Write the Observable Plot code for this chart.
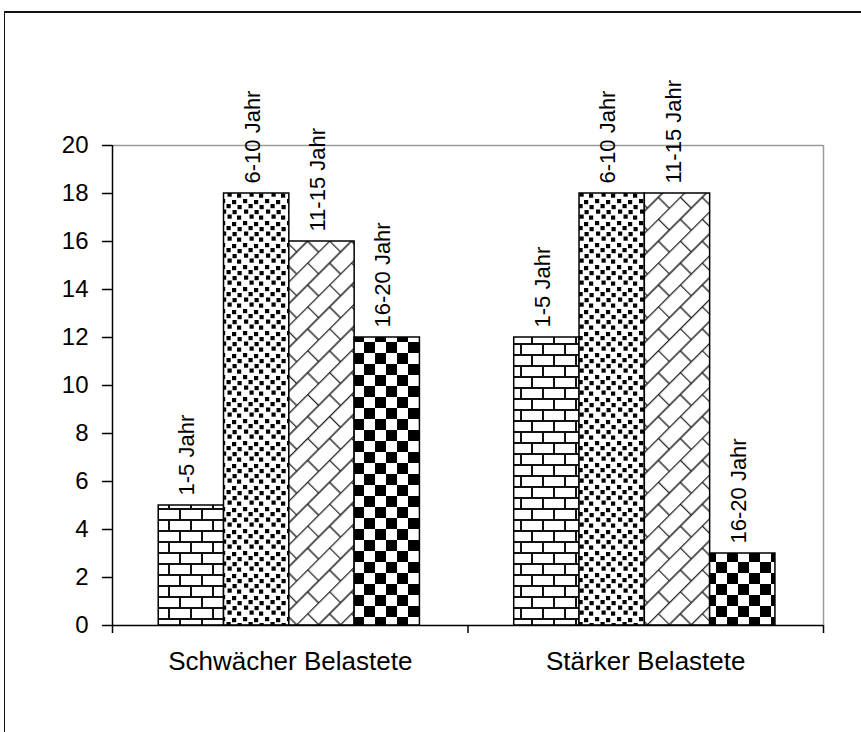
<!DOCTYPE html>
<html>
<head>
<meta charset="utf-8">
<script src="https://cdn.jsdelivr.net/npm/d3@7"></script>
<script src="https://cdn.jsdelivr.net/npm/@observablehq/plot@0.6"></script>
<style>
  html, body { margin: 0; padding: 0; background: #fff; overflow: hidden; }
  body { width: 861px; height: 732px; position: relative; font-family: "Liberation Sans", Arial, sans-serif; }
  #frame { position: absolute; left: 4px; top: 11px; width: 900px; height: 800px;
           border-left: 1.5px solid #111; border-top: 2px solid #111; box-sizing: border-box; }
  #chart { position: absolute; left: 0; top: 0; }
</style>
</head>
<body>
<div id="frame"></div>
<div id="chart"></div>
<script>
const groups = ["Schwächer Belastete", "Stärker Belastete"];
const series = ["1-5 Jahr", "6-10 Jahr", "11-15 Jahr", "16-20 Jahr"];
const valuesSchwaecher = [5, 18, 16, 12];
const valuesStaerker = [12, 18, 18, 3];
const yTicks = [0, 2, 4, 6, 8, 10, 12, 14, 16, 18, 20];

const groupValues = [valuesSchwaecher, valuesStaerker];
const patternIds = ["pat-brick", "pat-dots", "pat-diag", "pat-check"];

const pad = 0.13;      // space before first bar within a group (fraction of group)
const bw = 0.1837;     // bar width (fraction of group)

const rows = [];
groups.forEach((g, gi) => {
  series.forEach((s, si) => {
    rows.push({group: g, series: s, value: groupValues[gi][si], x1: gi + pad + si * bw, x2: gi + pad + (si + 1) * bw});
  });
});

const chart = Plot.plot({
  width: 861,
  height: 732,
  marginLeft: 112,
  marginRight: 38,
  marginTop: 145,
  marginBottom: 107,
  style: {fontFamily: "'Liberation Sans', Arial, sans-serif", color: "#000", background: "transparent"},
  x: {domain: [0, 2], axis: null},
  y: {domain: [0, 20], axis: null},
  color: {type: "ordinal", domain: series, range: patternIds.map(id => `url(#${id})`)},
  marks: [
    Plot.ruleY([20], {stroke: "#9a9a9a", strokeWidth: 1.5}),
    Plot.ruleX([2], {stroke: "#9a9a9a", strokeWidth: 1.5}),
    Plot.axisY({ticks: yTicks, tickSize: 10, tickPadding: 14, fontSize: 24, label: null, stroke: "#000", strokeWidth: 1.5}),
    Plot.axisX({ticks: [0, 1, 2], tickSize: 8, tickFormat: () => "", label: null, stroke: "#000", strokeWidth: 1.5}),
    Plot.axisX({ticks: [0.5, 1.5], tickSize: 0, tickPadding: 26, tickFormat: d => groups[Math.floor(d)], fontSize: 26, label: null}),
    Plot.rectY(rows, {x1: "x1", x2: "x2", y: "value", fill: "series", stroke: "#000", strokeWidth: 1.5}),
    Plot.ruleY([0], {stroke: "#000", strokeWidth: 1.5}),
    Plot.ruleX([0], {stroke: "#000", strokeWidth: 1.5}),
    Plot.text(rows, {x: d => (d.x1 + d.x2) / 2, y: "value", text: "series", rotate: -90, textAnchor: "start", dy: -10, dx: -4, fontSize: 22, fill: "#000"})
  ]
});

// pattern definitions
const svg = d3.select(chart);
const defs = svg.insert("defs", ":first-child");

// horizontal brick
let p = defs.append("pattern").attr("id", "pat-brick").attr("patternUnits", "userSpaceOnUse")
  .attr("width", 22).attr("height", 22).attr("x", 3).attr("y", 2);
p.append("rect").attr("width", 22).attr("height", 22).attr("fill", "#fff");
p.append("path").attr("d", "M0,1H22M0,12H22M1,1V12M12,12V22M1,22V23")
  .attr("stroke", "#111").attr("stroke-width", 2).attr("fill", "none");

// confetti dots
p = defs.append("pattern").attr("id", "pat-dots").attr("patternUnits", "userSpaceOnUse")
  .attr("width", 22).attr("height", 22);
p.append("rect").attr("width", 22).attr("height", 22).attr("fill", "#fff");
[[1,1],[12,2],[6.5,6],[17.5,7],[2,11.5],[12.5,12],[7.5,16.5],[17,17.5]].forEach(([x, y]) => {
  p.append("rect").attr("x", x).attr("y", y).attr("width", 4.2).attr("height", 4.2).attr("fill", "#000");
});

// diagonal brick
p = defs.append("pattern").attr("id", "pat-diag").attr("patternUnits", "userSpaceOnUse")
  .attr("width", 31).attr("height", 31).attr("patternTransform", "rotate(-45)");
p.append("rect").attr("width", 31).attr("height", 31).attr("fill", "#fff");
p.append("path").attr("d", "M0,0.5H31M0,16H31M0.5,0.5V16M16,16V31")
  .attr("stroke", "#222").attr("stroke-width", 1.4).attr("fill", "none");

// checkerboard
p = defs.append("pattern").attr("id", "pat-check").attr("patternUnits", "userSpaceOnUse")
  .attr("width", 22).attr("height", 22).attr("x", 1).attr("y", 1);
p.append("rect").attr("width", 22).attr("height", 22).attr("fill", "#fff");
p.append("rect").attr("width", 11).attr("height", 11).attr("fill", "#000");
p.append("rect").attr("x", 11).attr("y", 11).attr("width", 11).attr("height", 11).attr("fill", "#000");

document.getElementById("chart").appendChild(chart);
</script>
</body>
</html>
